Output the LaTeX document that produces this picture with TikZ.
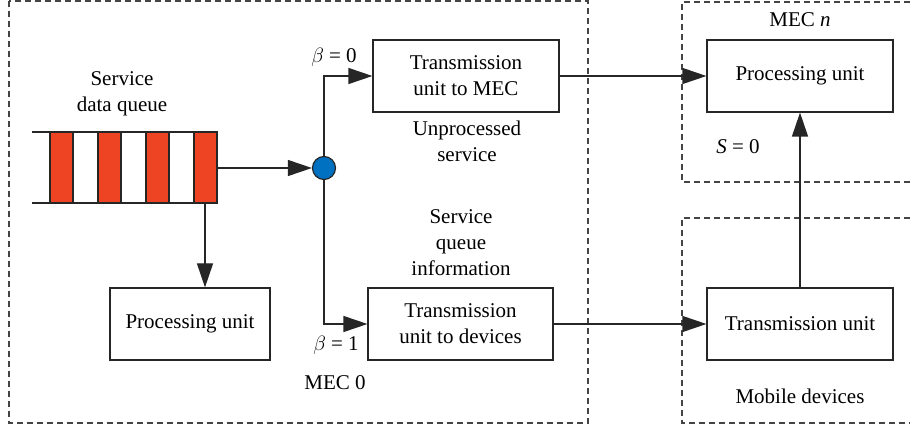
\documentclass[tikz,border=0pt]{standalone}
\usepackage{fontspec}
\setmainfont{Liberation Serif}
\usetikzlibrary{arrows.meta}
\definecolor{qred}{HTML}{EE4423}
\definecolor{nblue}{HTML}{0070C0}
\definecolor{dashgray}{HTML}{444444}
\tikzset{
  box/.style={draw=black!85, line width=1.2pt, minimum width=#1, minimum height=72pt, align=center, inner sep=0pt},
  lbl/.style={align=center, inner sep=0pt},
  conn/.style={draw=black!85, line width=1.2pt, -{Triangle[length=24pt,width=16pt]}},
  plain/.style={draw=black!85, line width=1.2pt},
  region/.style={draw=dashgray, line width=1.1pt, dash pattern=on 6pt off 4pt},
  bar/.style={draw=black!85, line width=1.2pt, fill=qred},
}
\begin{document}
\begin{tikzpicture}[x=1pt,y=-1pt, font=\fontsize{21}{26}\selectfont]
\useasboundingbox (0,0) rectangle (910,430);
% regions
\draw[region] (9,1) rectangle (588,423);
\draw[region] (910,2) -- (682,2) -- (682,182) -- (910,182);
\draw[region] (910,218) -- (682,218) -- (682,423) -- (910,423);
% queue
\draw[plain] (32,132) -- (217,132);
\draw[plain] (32,203) -- (217,203);
\foreach \x in {50,98,146,194} \draw[bar] (\x,132) rectangle ++(23,71);
\coordinate (qout) at (217,168);
\coordinate (qbot) at (205,203);
% nodes
\node[box=186pt] (tm) at (466,76) {Transmission\\unit to MEC};
\node[box=160pt] (pu0) at (190,324) {Processing unit};
\node[box=185pt] (td) at (460.5,324) {Transmission\\unit to devices};
\node[box=186pt] (pun) at (800,76) {Processing unit};
\node[box=186pt] (tu) at (800,324) {Transmission unit};
\node[circle, draw=black!85, line width=1.2pt, fill=nblue, minimum size=23pt, inner sep=0pt] (sw) at (324,168) {};
% labels
\node[lbl] at (122,94) {Service\\data queue};
\node[lbl] at (334,57) {$\beta$ = 0};
\node[lbl] at (336,345) {$\beta$ = 1};
\node[lbl] at (467,141) {Unprocessed\\service};
\node[lbl] at (461,243) {Service\\queue\\information};
\node[lbl] at (335,383) {MEC 0};
\node[lbl] at (800,20) {MEC \textit{n}};
\node[lbl] at (738,147) {\textit{S} = 0};
\node[lbl] at (800,396) {Mobile devices};
% connectors
\draw[conn] (qout) -- (sw.west);
\draw[conn] (qbot) -- (pu0.north -| qbot);
\draw[conn] (sw.north) |- (tm.west);
\draw[conn] (sw.south) |- (td.west);
\draw[conn] (tm.east) -- (pun.west);
\draw[conn] (td.east) -- (tu.west);
\draw[conn] (tu.north) -- (pun.south);
\end{tikzpicture}
\end{document}
